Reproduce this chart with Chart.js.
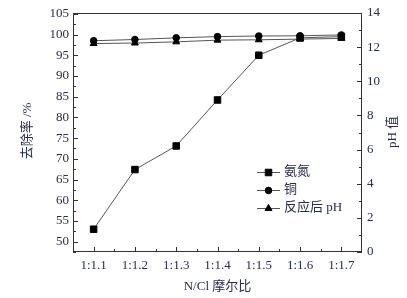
<!DOCTYPE html>
<html><head><meta charset="utf-8">
<script src="https://cdn.jsdelivr.net/npm/chart.js@4"></script>
<style>html,body{margin:0;padding:0;background:#fff}#wrap{width:407px;height:298px}</style>
</head><body><div id="wrap"><canvas id="c" width="407" height="298"></canvas></div>
<script>
const categories = ['1:1.1','1:1.2','1:1.3','1:1.4','1:1.5','1:1.6','1:1.7'];
const ammonia = [53.0, 67.4, 73.1, 84.2, 95.0, 99.2, 99.5];
const copper = [98.5, 98.8, 99.2, 99.5, 99.65, 99.7, 99.9];
const phAfter = [12.21, 12.24, 12.31, 12.41, 12.43, 12.47, 12.51];
const leftTicks = [50, 55, 60, 65, 70, 75, 80, 85, 90, 95, 100, 105];
const rightTicks = [0, 2, 4, 6, 8, 10, 12, 14];
const seriesNames = ['氨氮', '铜', '反应后 pH'];
const titleX = 'N/Cl 摩尔比';
const titleLeft = '去除率 /%';
const titleRight = 'pH 值';

const FONT = "'Liberation Serif','Noto Sans CJK SC',serif";
const TXT = '#262d4d';
const LINE = '#555';

const decor = {
  id: 'decor',
  afterDraw(chart) {
    const ctx = chart.ctx;
    const a = chart.chartArea;
    const sx = chart.scales.x, sy = chart.scales.y, sr = chart.scales.y1;
    ctx.save();
    ctx.strokeStyle = '#333';
    ctx.lineWidth = 1;
    ctx.strokeRect(Math.round(a.left) + 0.5, Math.round(a.top) + 0.5,
      Math.round(a.right - a.left) - 1, Math.round(a.bottom - a.top) - 1);
    ctx.beginPath();
    for (let v = 47.5; v <= 105.01; v += 2.5) {
      const y = Math.round(sy.getPixelForValue(v)) + 0.5;
      const len = (Math.abs(v % 5) < 0.01) ? 5 : 3;
      ctx.moveTo(a.left, y); ctx.lineTo(a.left + len, y);
    }
    for (let v = 0; v <= 14; v += 1) {
      const y = Math.round(sr.getPixelForValue(v)) + 0.5;
      const len = (v % 2 === 0) ? 5 : 3;
      ctx.moveTo(a.right, y); ctx.lineTo(a.right - len, y);
    }
    for (let i = 0; i < categories.length; i++) {
      const x = Math.round(sx.getPixelForValue(i)) + 0.5;
      ctx.moveTo(x, a.bottom); ctx.lineTo(x, a.bottom - 5);
      if (i < categories.length - 1) {
        const xm = Math.round((sx.getPixelForValue(i) + sx.getPixelForValue(i + 1)) / 2) + 0.5;
        ctx.moveTo(xm, a.bottom); ctx.lineTo(xm, a.bottom - 3);
      }
    }
    ctx.stroke();

    ctx.fillStyle = TXT;
    ctx.font = '13px ' + FONT;
    ctx.textAlign = 'center';
    ctx.textBaseline = 'middle';
    ctx.fillText(titleX, (a.left + a.right) / 2, 287);
    ctx.save(); ctx.translate(28, 131); ctx.rotate(-Math.PI / 2); ctx.fillText(titleLeft, 0, 0); ctx.restore();
    ctx.save(); ctx.translate(393, 132); ctx.rotate(-Math.PI / 2); ctx.fillText(titleRight, 0, 0); ctx.restore();

    const rows = [172, 190, 208];
    chart.data.datasets.forEach((ds, i) => {
      const y = rows[i];
      ctx.strokeStyle = LINE; ctx.lineWidth = 1;
      ctx.beginPath(); ctx.moveTo(257, y + 0.5); ctx.lineTo(280, y + 0.5); ctx.stroke();
      ctx.fillStyle = '#000'; ctx.strokeStyle = '#000';
      Chart.helpers.drawPoint(ctx, {
        pointStyle: ds.pointStyle, radius: ds.pointRadius, rotation: 0, borderWidth: 1
      }, 268.5, y + 0.5);
      ctx.fillStyle = TXT;
      ctx.textAlign = 'left';
      ctx.fillText(seriesNames[i], 284, y);
    });
    ctx.restore();
  }
};

const baseDs = {
  borderColor: LINE, borderWidth: 1, fill: false, tension: 0,
  pointBackgroundColor: '#000', pointBorderColor: '#000', pointBorderWidth: 1
};

new Chart(document.getElementById('c'), {
  type: 'line',
  data: {
    labels: categories,
    datasets: [
      Object.assign({}, baseDs, { label: seriesNames[0], data: ammonia, yAxisID: 'y', pointStyle: 'rect', pointRadius: 4.6 }),
      Object.assign({}, baseDs, { label: seriesNames[1], data: copper, yAxisID: 'y', pointStyle: 'circle', pointRadius: 3.3 }),
      Object.assign({}, baseDs, { label: seriesNames[2], data: phAfter, yAxisID: 'y1', pointStyle: 'triangle', pointRadius: 4 })
    ]
  },
  options: {
    responsive: false,
    animation: false,
    devicePixelRatio: 1,
    layout: { padding: { top: 13, left: 0, right: 0, bottom: 0 } },
    plugins: { legend: { display: false }, tooltip: { enabled: false } },
    scales: {
      x: {
        type: 'category', offset: true,
        grid: { display: false, drawTicks: false }, border: { display: false },
        ticks: { font: { family: FONT, size: 13 }, color: TXT, padding: 6, maxRotation: 0, autoSkip: false },
        afterFit: s => { s.height = 46; }
      },
      y: {
        position: 'left', min: 47.5, max: 105.2,
        afterBuildTicks: s => { s.ticks = leftTicks.map(v => ({ value: v })); },
        grid: { display: false, drawTicks: false }, border: { display: false },
        ticks: { font: { family: FONT, size: 13 }, color: TXT, padding: 4 },
        afterFit: s => { s.width = 73; }
      },
      y1: {
        position: 'right', min: 0, max: 14,
        afterBuildTicks: s => { s.ticks = rightTicks.map(v => ({ value: v })); },
        grid: { display: false, drawTicks: false }, border: { display: false },
        ticks: { font: { family: FONT, size: 13 }, color: TXT, padding: 5 },
        afterFit: s => { s.width = 45; }
      }
    }
  },
  plugins: [decor]
});
</script>
</body></html>
